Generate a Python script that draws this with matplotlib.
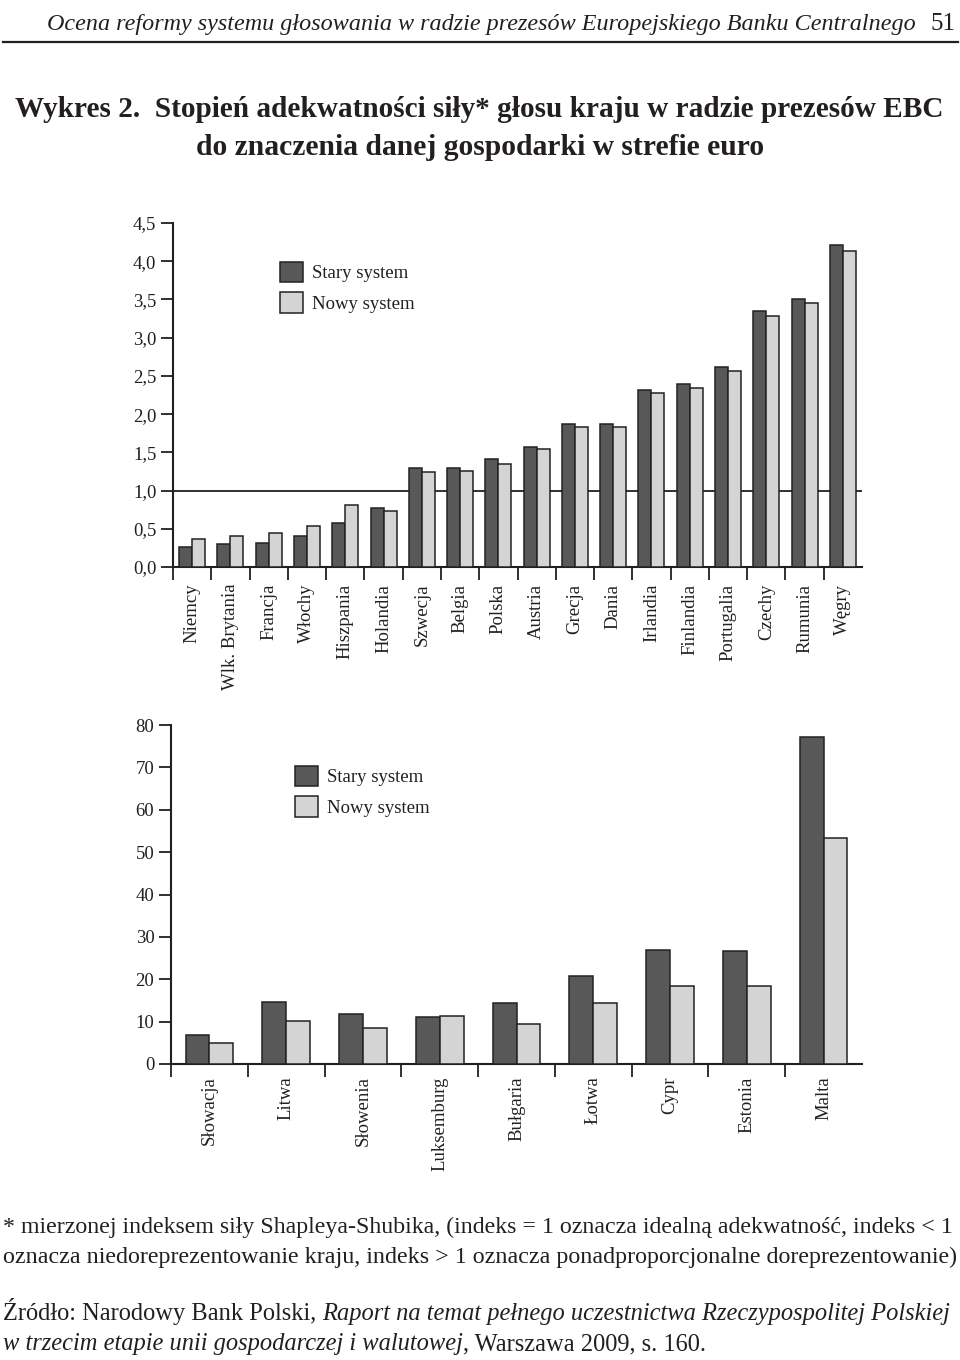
import matplotlib
matplotlib.use("Agg")
import matplotlib.pyplot as plt
import numpy as np
from matplotlib.patches import Patch

plt.rcParams["font.family"] = ["Liberation Serif", "DejaVu Serif"]

# --- data ---
big = ["Niemcy", "Wlk. Brytania", "Francja", "Włochy", "Hiszpania", "Holandia",
       "Szwecja", "Belgia", "Polska", "Austria", "Grecja", "Dania", "Irlandia",
       "Finlandia", "Portugalia", "Czechy", "Rumunia", "Węgry"]
big_old = [0.26, 0.30, 0.32, 0.40, 0.57, 0.77, 1.29, 1.29, 1.41, 1.57, 1.87, 1.87,
           2.31, 2.39, 2.61, 3.35, 3.51, 4.21]
big_new = [0.36, 0.41, 0.45, 0.54, 0.81, 0.73, 1.24, 1.26, 1.35, 1.55, 1.83, 1.83,
           2.27, 2.34, 2.57, 3.28, 3.45, 4.13]

small = ["Słowacja", "Litwa", "Słowenia", "Luksemburg", "Bułgaria", "Łotwa",
         "Cypr", "Estonia", "Malta"]
small_old = [6.9, 14.7, 11.8, 11.2, 14.4, 20.7, 26.8, 26.6, 77.2]
small_new = [4.9, 10.2, 8.4, 11.3, 9.4, 14.5, 18.3, 18.5, 53.4]

top_ticks = np.arange(0, 4.51, 0.5)
bot_ticks = np.arange(0, 81, 10)

DARK, LIGHT, EDGE, INK = "#585858", "#d4d4d4", "#222222", "#231f20"
W, H = 960, 1360

fig = plt.figure(figsize=(W / 100, H / 100), dpi=100)


def px(x0, y0, x1, y1):
    # pixel box (top-left origin) -> figure fraction rect
    return [x0 / W, 1 - y1 / H, (x1 - x0) / W, (y1 - y0) / H]


def panel(ax, names, old, new, ticks, fmt, bw, leg_anchor, pad):
    n = len(names)
    x = np.arange(n) + 0.5
    ax.bar(x - bw / 2, old, bw, color=DARK, edgecolor=EDGE, lw=1.1, zorder=3)
    ax.bar(x + bw / 2, new, bw, color=LIGHT, edgecolor=EDGE, lw=1.1, zorder=3)
    ax.set_xlim(0, n)
    ax.set_ylim(ticks[0], ticks[-1])
    ax.set_yticks(ticks)
    ax.set_yticklabels([fmt(t) for t in ticks])
    ax.set_xticks(np.arange(n))
    ax.set_xticklabels([])
    ax.set_xticks(x, minor=True)
    ax.set_xticklabels(names, minor=True, rotation=90, va="top", ha="center")
    ax.tick_params(axis="x", which="major", direction="out", length=9, width=1.3, color=INK)
    ax.tick_params(axis="x", which="minor", length=0, pad=pad, labelsize=13.5, labelcolor=INK)
    ax.tick_params(axis="y", direction="out", length=9, width=1.3, pad=3, labelsize=13.5,
                   color=INK, labelcolor=INK)
    for s in ("top", "right"):
        ax.spines[s].set_visible(False)
    for s in ("left", "bottom"):
        ax.spines[s].set_linewidth(1.5)
        ax.spines[s].set_color(INK)
    handles = [Patch(facecolor=DARK, edgecolor=EDGE, lw=1.1, label="Stary system"),
               Patch(facecolor=LIGHT, edgecolor=EDGE, lw=1.1, label="Nowy system")]
    ax.legend(handles=handles, loc="upper left", bbox_to_anchor=leg_anchor, frameon=False,
              fontsize=13.5, handlelength=1.25, handleheight=1.3, labelspacing=0.55,
              handletextpad=0.45, borderpad=0, borderaxespad=0, labelcolor=INK)


ax1 = fig.add_axes(px(173, 223, 862, 567))
panel(ax1, big, big_old, big_new, top_ticks, lambda t: f"{t:.1f}".replace(".", ","),
      0.34, (0.155, 0.888), 12)
ax1.axhline(1.0, color=INK, lw=1.3, zorder=1)

ax2 = fig.add_axes(px(171, 725, 862, 1064))
panel(ax2, small, small_old, small_new, bot_ticks, lambda t: f"{t:.0f}",
      0.31, (0.179, 0.88), 9)

# --- page text ---
r = fig.canvas.get_renderer()


def put(x, y, s, size, width=None, **kw):
    t = fig.text(x / W, 1 - y / H, s, fontsize=size, va="baseline", color=INK, **kw)
    if width is not None:
        w = t.get_window_extent(r).width
        t.set_fontsize(size * width / w)
    return t


def right_of(t):
    return t.get_window_extent(r).x1


put(47, 30, "Ocena reformy systemu głosowania w radzie prezesów Europejskiego Banku Centralnego",
    17, width=871, style="italic")
put(930, 30, "51", 17, width=25)
fig.add_artist(plt.Line2D([3 / W, 958 / W], [1 - 42 / H] * 2, color=INK, lw=1.6))

put(15, 117, "Wykres 2.  Stopień adekwatności siły* głosu kraju w radzie prezesów EBC",
    22, width=927, weight="bold")
put(480, 155, "do znaczenia danej gospodarki w strefie euro", 22, width=568,
    ha="center", weight="bold")

put(3, 1233, "* mierzonej indeksem siły Shapleya-Shubika, (indeks = 1 oznacza idealną adekwatność, indeks < 1",
    15, width=955)
put(3, 1263, "oznacza niedoreprezentowanie kraju, indeks > 1 oznacza ponadproporcjonalne doreprezentowanie)",
    15, width=955)

# source: regular + italic runs sharing one size, fitted to the line width
a = put(3, 1320, "Źródło: Narodowy Bank Polski, ", 15)
b = put(right_of(a), 1320, "Raport na temat pełnego uczestnictwa Rzeczypospolitej Polskiej", 15,
        style="italic")
sz = 15 * 955 / (right_of(b) - 3)
a.set_fontsize(sz)
b.set_fontsize(sz)
b.set_x(right_of(a) / W)
c = put(3, 1350, "w trzecim etapie unii gospodarczej i walutowej", sz, style="italic")
put(right_of(c), 1350, ", Warszawa 2009, s. 160.", sz)

fig.savefig("out.png", dpi=100)
